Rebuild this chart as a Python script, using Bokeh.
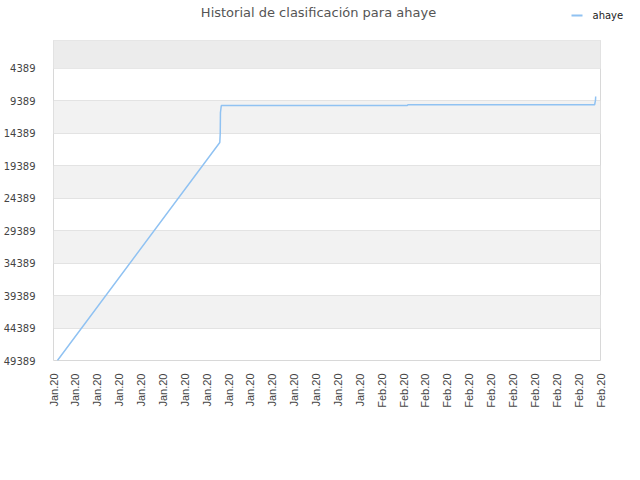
import math
from bokeh.plotting import figure
from bokeh.layouts import column
from bokeh.models import (Range1d, FixedTicker, BoxAnnotation, ColumnDataSource, Label)
from bokeh.embed import file_html
from bokeh.resources import INLINE

# ---- data ----
title_text = "Historial de clasificación para ahaye"
tick_labels = ["Jan.20"] * 15 + ["Feb.20"] * 11
y_ticks = [4389, 9389, 14389, 19389, 24389, 29389, 34389, 39389, 44389, 49389]
series_name = "ahaye"
# x in tick-index units (one tick per label), rank values
pos_x = [0.18, 7.60, 7.62, 7.63, 7.67, 16.17, 16.20, 24.73, 24.77, 24.78]
rank_y = [49389, 15794, 14400, 11171, 10092, 10092, 9990, 9990, 9300, 8705]

LINE_COLOR = "#90c2f2"
W, HH, H = 640, 40, 438

# ---- header (title + legend key) ----
head = figure(width=W, height=HH, output_backend="svg", toolbar_location=None,
              x_axis_type=None, y_axis_type=None,
              min_border_left=0, min_border_right=0, min_border_top=0, min_border_bottom=0)
can_unalign = "frame_align" in head.properties()
if can_unalign:
    head.frame_align = False
    head.x_range = Range1d(0, W)
    title_x, sw_x0, sw_x1, lab_x = 318, 571, 582, 592
else:
    # header frame gets aligned with the chart frame (~51..600 px)
    head.x_range = Range1d(51, 600)
    title_x, sw_x0, sw_x1, lab_x = 318, 556, 567, 569
head.y_range = Range1d(0, HH)
head.outline_line_color = None
head.grid.visible = False
head.background_fill_color = "white"
head.border_fill_color = "white"
head.add_layout(Label(x=title_x, y=HH - 12, text=title_text, text_align="center",
                      text_baseline="middle", text_font="DejaVu Sans",
                      text_font_size="13px", text_color="#555555"))
# legend key: short line swatch + series name
head.line(x=[sw_x0, sw_x1], y=[HH - 15, HH - 15], line_color=LINE_COLOR, line_width=2)
head.add_layout(Label(x=lab_x, y=HH - 15, text=series_name, text_align="left",
                      text_baseline="middle", text_font="DejaVu Sans",
                      text_font_size="10px", text_color="#222222"))

# ---- main chart ----
p = figure(width=W, height=H, output_backend="svg", toolbar_location=None,
           x_range=Range1d(0, len(tick_labels) - 1), y_range=Range1d(49389, 74),
           min_border_left=51, min_border_right=40,
           min_border_top=0, min_border_bottom=H - 320)
if can_unalign:
    p.frame_align = False

p.outline_line_color = "#d8d8d8"
p.background_fill_color = "white"
p.border_fill_color = "white"

# top darker band
p.add_layout(BoxAnnotation(bottom=y_ticks[0], fill_color="#ececec", fill_alpha=1,
                           line_alpha=0, level="underlay"))

src = ColumnDataSource(dict(x=pos_x, y=rank_y))
r = p.line("x", "y", source=src, line_color=LINE_COLOR, line_width=1.5)

p.xaxis.ticker = FixedTicker(ticks=list(range(len(tick_labels))))
p.xaxis.major_label_overrides = {i: t for i, t in enumerate(tick_labels)}
p.xaxis.major_label_orientation = math.pi / 2
p.xaxis.major_label_text_font = "Liberation Sans"
p.xaxis.major_label_text_font_size = "11px"
p.xaxis.major_label_text_color = "#444444"
p.xaxis.major_label_standoff = 7

p.yaxis.ticker = FixedTicker(ticks=y_ticks)
p.yaxis.major_label_text_font = "DejaVu Sans"
p.yaxis.major_label_text_font_size = "10px"
p.yaxis.major_label_text_color = "#444444"
p.yaxis.major_label_standoff = 12

for ax in (p.xaxis, p.yaxis):
    ax.axis_line_color = None
    ax.major_tick_line_color = None
    ax.minor_tick_line_color = None

p.xgrid.grid_line_color = None
step = y_ticks[1] - y_ticks[0]
p.ygrid.ticker = FixedTicker(ticks=[y_ticks[0] - step] + y_ticks)
p.ygrid.grid_line_color = "#e3e3e3"
p.ygrid.band_fill_color = "#f2f2f2"
p.ygrid.band_fill_alpha = 1

page = column(head, p, spacing=0)
open("out.html", "w").write(file_html(page, INLINE))
